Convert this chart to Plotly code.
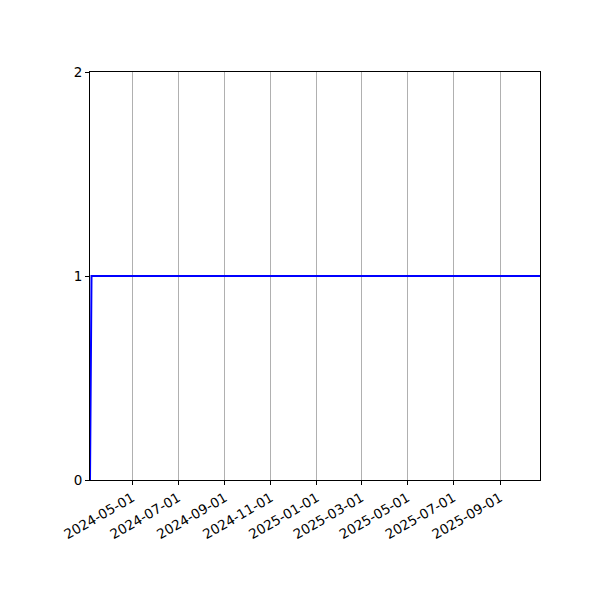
import plotly.graph_objects as go

dates = ["2024-03-06", "2024-03-08", "2025-10-24"]
values = [0, 1, 1]
x_ticks = ["2024-05-01", "2024-07-01", "2024-09-01", "2024-11-01", "2025-01-01",
           "2025-03-01", "2025-05-01", "2025-07-01", "2025-09-01"]
y_ticks = [0, 1, 2]

fig = go.Figure()
fig.add_trace(go.Scatter(x=dates, y=values, mode="lines",
                         line=dict(color="#0000ff", width=2), showlegend=False))

fig.update_layout(
    width=600, height=600,
    margin=dict(l=82, r=68, t=64, b=128),
    plot_bgcolor="white", paper_bgcolor="white",
    font=dict(family="DejaVu Sans", size=13.5, color="black"),
)
fig.update_xaxes(
    range=["2024-03-06", "2025-10-24"],
    tickvals=x_ticks, ticktext=x_ticks, tickangle=-30,
    showgrid=True, gridcolor="#b0b0b0", gridwidth=1,
    showline=True, linecolor="black", linewidth=1, mirror=True,
    ticks="outside", ticklen=4, tickcolor="black", zeroline=False,
)
fig.update_yaxes(
    range=[0, 2], tickvals=y_ticks,
    showgrid=False,
    showline=True, linecolor="black", linewidth=1, mirror=True,
    ticks="outside", ticklen=4, tickcolor="black", zeroline=False,
)
fig.write_html("out.html")
